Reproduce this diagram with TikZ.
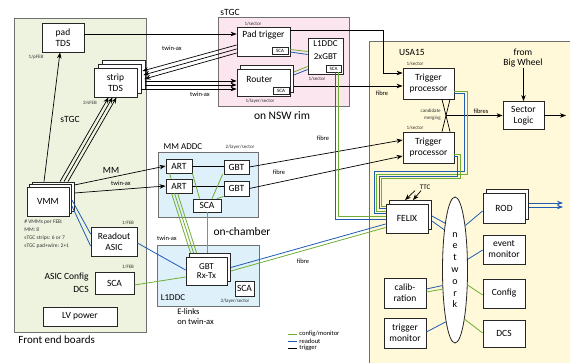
\documentclass[tikz,border=0pt]{standalone}
\usepackage{fontspec}
\setmainfont{Carlito}
\usetikzlibrary{calc, positioning, arrows.meta, shapes.geometric, shadows, backgrounds}

\definecolor{febfill}{RGB}{238,243,224}
\definecolor{rimfill}{RGB}{251,229,238}
\definecolor{mmfill}{RGB}{222,240,249}
\definecolor{usafill}{RGB}{255,249,217}
\definecolor{regionline}{RGB}{112,112,112}
\definecolor{cfggreen}{RGB}{112,173,52}
\definecolor{roblue}{RGB}{31,92,178}

\begin{document}
\begin{tikzpicture}[x=1pt, y=-1pt, >={Stealth[length=6pt, width=4.5pt]}, line width=0.7pt, font=\fontsize{9.5}{11}\selectfont]
    \tikzstyle{block}=[draw=black!85, fill=white, rectangle, inner sep=0pt, align=center, line width=0.8pt]
    \tikzstyle{stackone}=[copy shadow={shadow xshift=3.5pt, shadow yshift=3.5pt, fill=white, draw=black!85}]
    \tikzstyle{stacktwo}=[copy shadow={shadow xshift=8pt, shadow yshift=8pt, fill=white, draw=black!85}, copy shadow={shadow xshift=4pt, shadow yshift=4pt, fill=white, draw=black!85}]
    \tikzstyle{scabox}=[draw=black!85, fill=white, inner sep=0pt, line width=0.6pt, font=\fontsize{5}{5}\selectfont]
    \tikzstyle{region}=[draw=regionline, line width=1pt]
    \tikzstyle{tinylbl}=[inner sep=0pt, font=\fontsize{5}{6}\selectfont, text=black!80]
    \tikzstyle{cablelbl}=[inner sep=0pt, font=\fontsize{6.5}{7}\selectfont]
    \tikzstyle{lbl}=[inner sep=0pt, font=\fontsize{9.5}{11}\selectfont]
    \tikzstyle{biglbl}=[inner sep=0pt, font=\fontsize{11.5}{13}\selectfont]
    \tikzstyle{legendlbl}=[inner sep=0pt, font=\fontsize{6.5}{7}\selectfont]
    \tikzstyle{cfg}=[draw=cfggreen, line width=0.8pt]
    \tikzstyle{ro}=[draw=roblue, line width=0.8pt]

    \useasboundingbox (0,0) rectangle (570,363);

    % front end boards
    \node[block, minimum width=42, minimum height=29] (padtds) at (63,37.5) {pad\\TDS};
    \node[block, stacktwo, minimum width=43, minimum height=29] (strip) at (115.5,82.5) {strip\\TDS};
    \node[block, copy shadow={shadow xshift=5pt, shadow yshift=5pt, fill=white, draw=black!85}, copy shadow={shadow xshift=2.5pt, shadow yshift=2.5pt, fill=white, draw=black!85}, minimum width=42, minimum height=29] (vmm) at (48,201.5) {VMM};
    \node[block, minimum width=46, minimum height=29] (readout) at (114,241.5) {Readout\\ASIC};
    \node[block, minimum width=39, minimum height=22] (fesca) at (114.5,283) {SCA};
    \node[block, minimum width=74, minimum height=19] (lv) at (80,316.5) {LV power};

    \node[tinylbl] (padnum) at (36,57) {1/pFEB};
    \node[tinylbl] (stripnum) at (90,103) {3/sFEB};
    \node[lbl] (stgcfe) at (70,119) {sTGC};
    \node[lbl] (mmlbl) at (111,170) {MM};
    \node[tinylbl, anchor=north west, align=left, font=\fontsize{5.5}{8.3}\selectfont] (vmmnote) at (24,219) {\# VMMs per FEB:\\MM: 8\\sTGC strips: 6 or 7\\sTGC pad+wire: 2+1};
    \node[tinylbl] (ronum) at (128,223) {1/FEB};
    \node[tinylbl] (scanum) at (128,267) {1/FEB};
    \node[lbl, anchor=east, align=right, font=\fontsize{9.5}{13}\selectfont] (asiccfg) at (89,282.5) {ASIC Config\\DCS};
    \node[biglbl, anchor=west, font=\fontsize{11}{13}\selectfont] (febtitle) at (18,340) {Front end boards};

    % sTGC on the rim
    \node[block, minimum width=53, minimum height=29] (padtrig) at (263.5,41.5) {};
    \node[lbl] (padtrigtxt) at (263.5,35) {Pad trigger};
    \node[scabox, minimum width=16, minimum height=7] (padsca) at (280,51) {SCA};
    \node[block, stackone, minimum width=53, minimum height=27] (router) at (263.5,82.5) {};
    \node[lbl] (routertxt) at (259.5,79) {Router};
    \node[scabox, minimum width=16, minimum height=7] (routersca) at (281,91) {SCA};
    \node[block, minimum width=35, minimum height=36] (l1top) at (325.5,56) {};
    \node[lbl, align=center, font=\fontsize{9}{13}\selectfont] (l1toptxt) at (325.5,50.5) {L1DDC\\2xGBT};
    \node[scabox, minimum width=15, minimum height=7] (l1sca) at (333.5,68.5) {SCA};

    \node[lbl] (stgcrim) at (230,12) {sTGC};
    \node[biglbl] (nswrim) at (282,116) {on NSW rim};
    \node[tinylbl] (padtrignum) at (253,24) {1/sector};
    \node[tinylbl] (routernum) at (260,101) {1/layer/sector};
    \node[tinylbl] (l1num) at (317,79) {1/sector};

    % MM on-chamber
    \node[block, minimum width=26, minimum height=14] (art1) at (179,166) {ART};
    \node[block, minimum width=26, minimum height=14] (art2) at (179,186) {ART};
    \node[block, minimum width=25, minimum height=14] (gbt1) at (236.5,167) {GBT};
    \node[block, minimum width=25, minimum height=15] (gbt2) at (236.5,188.5) {GBT};
    \node[block, minimum width=28, minimum height=13] (mmsca) at (207,205.5) {SCA};
    \node[block, stackone, minimum width=41, minimum height=28, font=\fontsize{9}{9}\selectfont] (gbtrx) at (206.5,271) {GBT\\Rx-Tx};
    \node[block, minimum width=19, minimum height=15] (l1sca2) at (244.5,288.5) {SCA};

    \node[lbl, font=\fontsize{9}{11}\selectfont] (mmaddc) at (183,147) {MM ADDC};
    \node[tinylbl] (mmnum) at (240,147) {2/layer/sector};
    \node[biglbl] (onch) at (242,232) {on-chamber};
    \node[lbl, font=\fontsize{9}{11}\selectfont] (l1ddc) at (173,298) {L1DDC};
    \node[tinylbl] (l1ddcnum) at (235,301) {2/layer/sector};
    \node[lbl, anchor=north west, align=left, font=\fontsize{8.5}{10}\selectfont] (elinks) at (177,308) {E-links\\on twin-ax};

    % USA15
    \node[block, minimum width=51, minimum height=31] (tp1) at (428.5,83.5) {Trigger\\processor};
    \node[block, minimum width=51, minimum height=31] (tp2) at (428.5,147.5) {Trigger\\processor};
    \node[block, minimum width=41, minimum height=28] (sl) at (523.5,115.5) {Sector\\Logic};
    \node[block, stackone, minimum width=42, minimum height=29] (felix) at (407,218.5) {FELIX};
    \node[block, stackone, minimum width=42, minimum height=30] (rod) at (504,208) {ROD};
    \node[block, minimum width=42, minimum height=29] (evmon) at (504,249.5) {event\\monitor};
    \node[block, minimum width=42, minimum height=29] (config) at (504,293.5) {Config};
    \node[block, minimum width=42, minimum height=27] (dcs) at (504,333.5) {DCS};
    \node[block, minimum width=42, minimum height=30] (calib) at (405,293) {calib-\\ration};
    \node[block, minimum width=42, minimum height=30] (trigmon) at (405,333) {trigger\\monitor};
    \node[block, ellipse, minimum width=25, minimum height=146, font=\fontsize{10}{11.8}\selectfont] (network) at (455,270) {n\\e\\t\\w\\o\\r\\k};

    \node[lbl] (usa) at (412,52) {USA15};
    \node[tinylbl] (tp1num) at (415,64) {1/sector};
    \node[tinylbl] (tp2num) at (415,128) {1/sector};
    \node[tinylbl, anchor=east, align=right, font=\fontsize{5}{7}\selectfont] (merging) at (441,114.5) {candidate\\merging};
    \node[lbl, align=center, font=\fontsize{9.5}{10}\selectfont] (bw) at (523,58.5) {from\\Big Wheel};
    \node[cablelbl, font=\fontsize{7}{7}\selectfont] (ttc) at (425,187) {TTC};

    % cable labels
    \node[cablelbl] (tw1) at (172,48) {twin-ax};
    \node[cablelbl] (tw2) at (200,94) {twin-ax};
    \node[cablelbl] (tw3) at (121,183) {twin-ax};
    \node[cablelbl] (tw4) at (167,238) {twin-ax};
    \node[cablelbl] (fibre1) at (323,138) {fibre};
    \node[cablelbl] (fibre2) at (279,172) {fibre};
    \node[cablelbl] (fibre3) at (303,261) {fibre};
    \node[cablelbl] (fibre4) at (382,93) {fibre};
    \node[cablelbl] (fibres) at (481,111) {fibres};

    % regions
    \begin{scope}[on background layer]
        \draw[region, fill=febfill] (14,19) rectangle (146,332);
        \draw[region, fill=rimfill] (218,18) rectangle (349,107);
        \draw[region, fill=mmfill] (158,153) rectangle (258,218);
        \draw[region, fill=mmfill] (157,246) rectangle (259,306);
        \draw[region, fill=usafill] (369,42) rectangle (580,375);
    \end{scope}

    % trigger path
    \draw[->] (padtds.east |- 0,34) -- (padtrig.west |- 0,34);
    \draw[->] (padtrig.west |- 0,45) -- ($(strip.east)+(5,-11.5)$);
    \draw[->] (padtrig.west |- 0,49) -- ($(strip.east)+(6,-7.5)$);
    \draw[->] (padtrig.west |- 0,53) -- ($(strip.east)+(7,-3.5)$);
    \draw[->] ($(strip.east |- 0,81)+(8,0)$) -- (router.west |- 0,81);
    \draw[->] ($(strip.east |- 0,85)+(8,0)$) -- (router.west |- 0,85);
    \draw[->] ($(strip.east |- 0,89)+(4,0)$) -- (router.west |- 0,89);
    \draw[->] ($(vmm.north)+(-4,-5)$) -- ($(padtds.south)+(-3,0)$);
    \draw[->] ($(vmm.north)+(12,-5)$) -- ($(strip.south)+(-7,0)$);
    \draw[->] ($(vmm.north)+(16,-5)$) -- ($(strip.south)+(-3,0)$);
    \draw[->] ($(vmm.north)+(20,-5)$) -- ($(strip.south)+(1,0)$);
    \draw[->] ($(vmm.east |- 0,185)+(5,0)$) -- (art1.west);
    \draw[->] ($(vmm.east |- 0,193)+(5,0)$) -- (art2.west);
    \draw (art1.east) -- (gbt1.west |- art1.east);
    \draw (art2.east) -- (gbt2.west |- art2.east);

    \coordinate (tpin) at (383,73);
    \draw[->] (padtrig.east |- 0,30) -| (tpin) -- (tp1.west |- tpin);
    \draw[->] ($(router.east |- 0,86)+(3.5,0)$) -- (tp1.west |- 0,86);
    \draw[->] (gbt1.east) -- (tp2.west |- 0,140);
    \draw[->] (gbt2.east) -- (tp2.west |- 0,156);
    \draw ($(tp1.south)+(13.5,0)$) -- ($(tp2.north)+(21.5,0)$);
    \draw ($(tp1.south)+(21.5,0)$) -- ($(tp2.north)+(13.5,0)$);
    \coordinate (merge) at ($(tp1.south)!0.5!(tp2.north)+(17.5,0)$);
    \draw[->] (merge) -- (sl.west);
    \draw[->] (bw.south -| sl.north) -- (sl.north);
    \coordinate (slout) at (566,115.5);
    \draw[->] (sl.east) -- (slout);

    % config and readout links
    \draw[cfg] (padtrig.east |- 0,49.5) -- (l1top.west |- 0,51.5);
    \draw[ro] (padtrig.east |- 0,52) -- (l1top.west |- 0,54.5);
    \draw[cfg] ($(router.east |- 0,72)+(3.5,0)$) -- (l1top.west |- 0,66.5);
    \draw[ro] ($(router.east |- 0,75)+(3.5,0)$) -- (l1top.west |- 0,69.5);
    \draw[ro] ($(l1sca.south)+(1.5,0)$) |- (felix.west |- 0,219.5);
    \draw[cfg] ($(l1sca.south)+(4.5,0)$) |- (felix.west |- 0,216.5);

    \draw[cfg] (tp1.east |- 0,91) -| (467,174) -| (376.5,211) -- (felix.west |- 0,211);
    \draw[ro] (tp1.east |- 0,93.5) -| (464.5,171.5) -| (374,213.5) -- (felix.west |- 0,213.5);
    \draw[cfg] (tp2.east |- 0,154) -| (460,178.5) -| (381.5,206) -- (felix.west |- 0,206);
    \draw[ro] (tp2.east |- 0,156.5) -| (457.5,176) -| (379,208.5) -- (felix.west |- 0,208.5);

    \draw[cfg] (art1.south east) -- ($(mmsca.north west)+(7,0)$);
    \draw[cfg] ($(gbt1.south west)+(-1,0)$) -- ($(mmsca.north)+(5,0)$);
    \draw[cfg] (gbt2.south west) -- ($(mmsca.north)+(10,0)$);
    \draw[cfg] ($(art1.south west)+(4,0)$) -- ($(art2.north west)+(5.5,0)$);
    \draw[cfg] ($(art2.south west)+(6,0)$) -- ($(gbtrx.north west)+(5,-3.5)$);
    \draw[cfg] ($(art2.south west)+(9,0)$) -- ($(gbtrx.north west)+(8,-3.5)$);
    \draw[cfg] ($(art2.south west)+(12,0)$) -- ($(gbtrx.north west)+(11,-3.5)$);
    \draw[cfg] (mmsca.south) -- ($(mmsca.south |- gbtrx.north)+(0,-3.5)$);

    \draw[ro] ($(vmm.east |- 0,200)+(2.5,0)$) -- (readout.west |- 0,234);
    \draw[ro] ($(vmm.east |- 0,206)+(2.5,0)$) -- (readout.west |- 0,246);
    \draw[ro] (readout.east |- 0,243) -- (gbtrx.west |- 0,270);
    \draw[cfg] (fesca.east |- 0,285) -- (gbtrx.west |- 0,277);
    \draw[ro] ($(gbtrx.east |- 0,267.5)+(3.5,0)$) -- (felix.west |- 0,224);
    \draw[cfg] ($(gbtrx.east |- 0,271)+(3.5,0)$) -- (felix.west |- 0,227.5);

    % counting room network
    \draw[->] ($(ttc.south)+(-10,1)$) -- ($(felix.north)+(-2,-3.5)$);
    \draw[->] ($(ttc.south)+(-4,1)$) -- ($(felix.north)+(6,-3.5)$);
    \draw[ro] ($(felix.east |- 0,216)+(3.5,0)$) -- (network.102);
    \draw[ro] ($(felix.east |- 0,221)+(3.5,0)$) -- (network.105);
    \draw[ro] (network.77) -- (rod.west |- 0,211);
    \draw[ro] (network.40) -- (evmon.west |- 0,250);
    \draw[cfg] (network.-50) -- (config.west |- 0,295);
    \draw[cfg] (network.-79) -- (dcs.west |- 0,333);
    \draw[ro] (calib.east |- 0,289) -- (network.231);
    \draw[cfg] (calib.east |- 0,292) -- (network.237);
    \draw[ro] (trigmon.east |- 0,332) -- (network.260);
    \coordinate (rodout1) at (563,203);
    \coordinate (rodout2) at (563,207);
    \draw[ro, ->] ($(rod.east |- rodout1)+(3.5,0)$) -- (rodout1);
    \draw[ro, ->] ($(rod.east |- rodout2)+(3.5,0)$) -- (rodout2);

    % legend
    \coordinate (lgcfg) at (288,334);
    \coordinate (lgro) at (288,341);
    \coordinate (lgtrg) at (288,348);
    \draw[cfg] (lgcfg) -- ++(9,0) node[legendlbl, right=2pt] (lgcfgtxt) {config/monitor};
    \draw[ro] (lgro) -- ++(9,0) node[legendlbl, right=2pt] (lgrotxt) {readout};
    \draw (lgtrg) -- ++(9,0) node[legendlbl, right=2pt] (lgtrgtxt) {trigger};
\end{tikzpicture}
\end{document}
